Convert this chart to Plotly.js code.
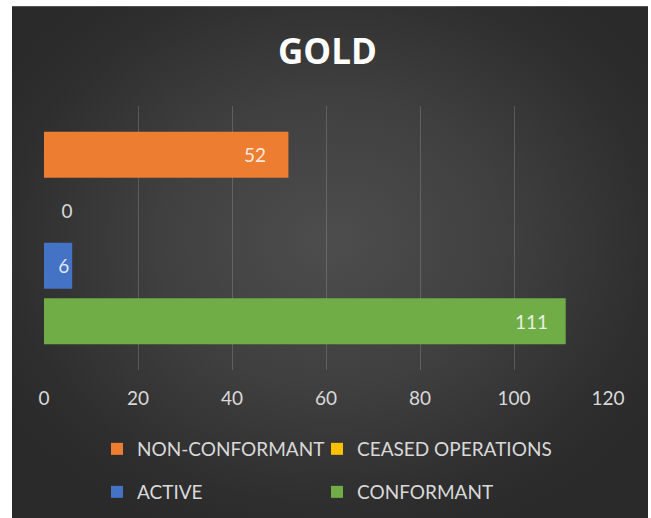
<!DOCTYPE html>
<html>
<head>
<meta charset="utf-8">
<script src="https://cdn.plot.ly/plotly-3.0.1.min.js"></script>
<style>
  html, body { margin: 0; padding: 0; background: #ffffff; }
  #wrap { position: relative; width: 651px; height: 518px; overflow: hidden; background: #ffffff; }
  #panel { position: absolute; left: 12px; top: 6px; width: 636px; height: 520px;
           background: radial-gradient(ellipse 60% 60% at 50% 45%, #4d4d4d 0%, #404040 45%, #2e2e2e 85%, #2a2a2a 100%);
           border-top: 1px solid #555; }
  #chart { position: absolute; left: 0; top: 0; width: 651px; height: 518px; }
</style>
</head>
<body>
<div id="wrap">
  <div id="panel"></div>
  <div id="chart"></div>
</div>
<script>
  // Data
  const categories = ['GOLD'];
  const seriesNames = ['CONFORMANT', 'ACTIVE', 'CEASED OPERATIONS', 'NON-CONFORMANT'];
  const conformant = [111];
  const active = [6];
  const ceased = [0];
  const nonConformant = [52];
  const xTicks = [0, 20, 40, 60, 80, 100, 120];

  const colors = ['#70AD47', '#4472C4', '#FFC000', '#ED7D31'];
  const values = [conformant, active, ceased, nonConformant];
  const legendOf = ['legend4', 'legend3', 'legend2', 'legend'];
  const templates = ['%{x}\u00a0\u00a0\u00a0', '%{x}', '\u00a0\u00a0\u00a0%{x}', '%{x}\u00a0\u00a0\u00a0\u00a0'];
  const positions = ['inside', 'inside', 'outside', 'inside'];
  const FONT = 'Lato, "Open Sans", sans-serif';

  const traces = seriesNames.map((name, i) => ({
    type: 'bar',
    orientation: 'h',
    name: name,
    x: values[i],
    y: categories,
    marker: { color: colors[i], line: { width: 0 } },
    texttemplate: templates[i],
    textposition: positions[i],
    insidetextanchor: 'end',
    textangle: 0,
    constraintext: 'none',
    cliponaxis: false,
    insidetextfont: { family: FONT, size: 19, color: 'rgba(255,255,255,0.85)' },
    outsidetextfont: { family: FONT, size: 19, color: '#d9d9d9' },
    legend: legendOf[i],
    hoverinfo: 'x+name'
  }));

  const legendCommon = {
    orientation: 'h',
    xanchor: 'left',
    yanchor: 'middle',
    bgcolor: 'rgba(0,0,0,0)',
    font: { family: FONT, size: 19, color: '#d9d9d9' },
    itemclick: false,
    itemdoubleclick: false
  };
  const px2x = p => (p - 44) / 564;
  const px2y = p => (370 - p) / 264;
  const col1 = px2x(97), col2 = px2x(317);
  const row1 = px2y(449), row2 = px2y(492);

  const layout = {
    width: 651,
    height: 518,
    paper_bgcolor: 'rgba(0,0,0,0)',
    plot_bgcolor: 'rgba(0,0,0,0)',
    margin: { l: 44, r: 43, t: 106, b: 148, autoexpand: false },
    title: {
      text: '<b>GOLD</b>',
      x: 0.503, xref: 'container', xanchor: 'center',
      y: 1 - 52 / 518, yref: 'container', yanchor: 'middle',
      font: { family: '"Open Sans", sans-serif', size: 35, color: '#ffffff' }
    },
    barmode: 'group',
    bargap: 0.16,
    bargroupgap: 0.17,
    xaxis: {
      range: [0, 120],
      tickvals: xTicks,
      ticktext: xTicks.map(String),
      showgrid: true,
      gridcolor: 'rgba(255,255,255,0.17)',
      gridwidth: 1,
      zeroline: false,
      showline: false,
      ticks: '',
      ticklabelstandoff: 15,
      tickfont: { family: FONT, size: 19, color: '#d9d9d9' },
      fixedrange: true
    },
    yaxis: {
      type: 'category',
      showticklabels: false,
      showgrid: false,
      zeroline: false,
      showline: false,
      ticks: '',
      fixedrange: true
    },
    showlegend: true,
    legend: Object.assign({}, legendCommon, { x: col1, y: row1 }),
    legend2: Object.assign({}, legendCommon, { x: col2, y: row1 }),
    legend3: Object.assign({}, legendCommon, { x: col1, y: row2 }),
    legend4: Object.assign({}, legendCommon, { x: col2, y: row2 })
  };

  Plotly.newPlot('chart', traces, layout, { displayModeBar: false, staticPlot: false });
</script>
</body>
</html>
